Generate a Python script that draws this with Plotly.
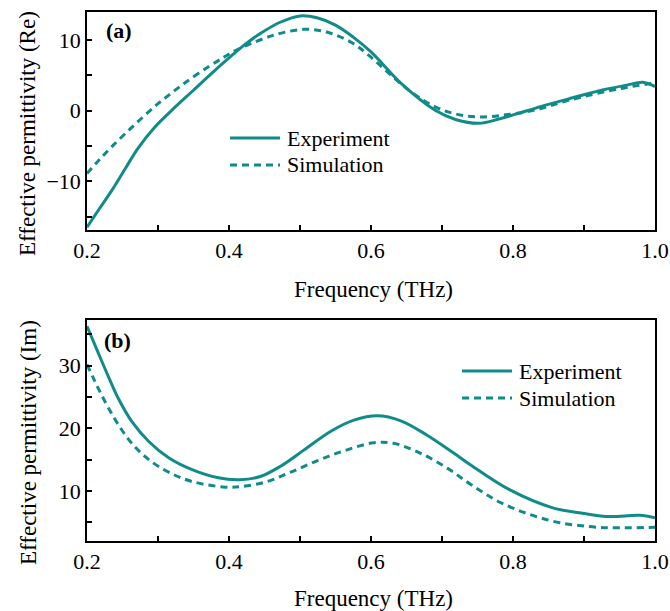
import plotly.graph_objects as go

# Real part of the effective permittivity
freq_re_exp = [0.200, 0.216, 0.235, 0.254, 0.272, 0.296, 0.320, 0.348, 0.376, 0.404,
               0.423, 0.444, 0.472, 0.500, 0.525, 0.550, 0.575, 0.600, 0.644, 0.691,
               0.720, 0.752, 0.780, 0.804, 0.840, 0.880, 0.926, 0.960, 0.983, 1.000]
re_exp = [-16.5, -14.1, -11.3, -8.2, -5.3, -2.3, 0.1, 2.7, 5.3, 7.8,
          9.4, 10.9, 12.5, 13.4, 13.1, 12.1, 10.4, 8.3, 3.7, 0.0,
          -1.3, -1.8, -1.2, -0.5, 0.6, 1.7, 2.9, 3.6, 4.0, 3.4]

freq_re_sim = [0.200, 0.216, 0.235, 0.265, 0.298, 0.318, 0.339, 0.371, 0.392, 0.409,
               0.449, 0.475, 0.505, 0.530, 0.550, 0.575, 0.597, 0.653, 0.691, 0.720,
               0.752, 0.790, 0.832, 0.880, 0.950, 1.000]
re_sim = [-8.9, -7.1, -5.1, -2.2, 0.8, 2.4, 4.0, 6.2, 7.5, 8.5,
          10.2, 11.0, 11.5, 11.3, 10.7, 9.5, 7.8, 2.9, 0.5, -0.5,
          -0.9, -0.6, 0.1, 1.5, 3.1, 3.9]

# Imaginary part of the effective permittivity
freq_im_exp = [0.200, 0.216, 0.230, 0.244, 0.263, 0.287, 0.315, 0.348, 0.385, 0.414,
               0.444, 0.472, 0.510, 0.543, 0.576, 0.609, 0.642, 0.679, 0.717, 0.741,
               0.795, 0.856, 0.900, 0.936, 0.978, 1.000]
im_exp = [36.3, 32.0, 28.3, 24.8, 21.1, 17.9, 15.3, 13.4, 12.1, 11.8,
          12.3, 13.9, 16.9, 19.5, 21.3, 22.0, 21.2, 18.9, 16.0, 14.1,
          10.2, 7.3, 6.4, 5.9, 6.1, 5.7]

freq_im_sim = [0.200, 0.209, 0.218, 0.230, 0.244, 0.263, 0.287, 0.315, 0.348, 0.395,
               0.418, 0.454, 0.487, 0.524, 0.562, 0.604, 0.632, 0.670, 0.708, 0.741,
               0.785, 0.851, 0.907, 0.950, 1.000]
im_sim = [30.2, 28.0, 25.9, 23.3, 20.6, 17.6, 15.0, 13.0, 11.5, 10.6,
          10.7, 11.5, 13.0, 14.8, 16.4, 17.7, 17.6, 16.0, 13.6, 11.0,
          8.0, 5.3, 4.3, 4.1, 4.2]

series_names = ["Experiment", "Simulation"]
x_ticks = [0.2, 0.4, 0.6, 0.8, 1.0]
x_ticktext = ["0.2", "0.4", "0.6", "0.8", "1.0"]

W, H = 670, 611
TEAL = "#0F8C8A"
FONT = "Liberation Serif, Times New Roman, serif"
DASH = "7px,5px"


def px_x(p):
    return p / W


def px_y(p):
    return 1 - p / H


fig = go.Figure()

line_kw = dict(color=TEAL, width=3, shape="spline", smoothing=1.0)
fig.add_trace(go.Scatter(x=freq_re_exp, y=re_exp, mode="lines", name=series_names[0],
                         line=dict(**line_kw), xaxis="x", yaxis="y"))
fig.add_trace(go.Scatter(x=freq_re_sim, y=re_sim, mode="lines", name=series_names[1],
                         line=dict(**line_kw, dash=DASH), xaxis="x", yaxis="y"))
fig.add_trace(go.Scatter(x=freq_im_exp, y=im_exp, mode="lines", name=series_names[0],
                         line=dict(**line_kw), xaxis="x2", yaxis="y2"))
fig.add_trace(go.Scatter(x=freq_im_sim, y=im_sim, mode="lines", name=series_names[1],
                         line=dict(**line_kw, dash=DASH), xaxis="x2", yaxis="y2"))

minor_kw = dict(ticks="inside", ticklen=5, tickwidth=1.5, tickcolor="black")
axis_common = dict(
    showline=True, linecolor="black", linewidth=1.5, mirror=True,
    ticks="inside", ticklen=5, tickwidth=1.5, tickcolor="black",
    showgrid=False, zeroline=False, automargin=False,
    tickfont=dict(family=FONT, size=22, color="black"),
)
x_dom = [px_x(87), px_x(655)]

xcommon = dict(axis_common, range=[0.2, 1.0], domain=x_dom,
               tickvals=x_ticks, ticktext=x_ticktext,
               minor=dict(minor_kw, tickvals=[0.3, 0.5, 0.7, 0.9]))

fig.update_layout(
    width=W, height=H,
    margin=dict(l=0, r=0, t=0, b=0),
    paper_bgcolor="white", plot_bgcolor="white",
    showlegend=False,
    xaxis=dict(xcommon, anchor="y"),
    yaxis=dict(axis_common, anchor="x", domain=[px_y(230), px_y(12)],
               range=[-16.9, 13.95], tickvals=[-10, 0, 10],
               minor=dict(minor_kw, tickvals=[-15, -5, 5])),
    xaxis2=dict(xcommon, anchor="y2"),
    yaxis2=dict(axis_common, anchor="x2", domain=[px_y(541), px_y(320)],
                range=[2.0, 37.3], tickvals=[10, 20, 30],
                minor=dict(minor_kw, tickvals=[5, 15, 25, 35])),
)

annotations = []
shapes = []


def text(x, y, s, size=23, angle=0, xanchor="center", bold=False):
    annotations.append(dict(
        x=px_x(x), y=px_y(y), xref="paper", yref="paper", text=f"<b>{s}</b>" if bold else s,
        showarrow=False, textangle=angle, xanchor=xanchor, yanchor="middle",
        font=dict(family=FONT, size=size, color="black")))


# Axis titles and panel labels
text(28, 134, "Effective permittivity (Re)", angle=-90)
text(28, 443, "Effective permittivity (Im)", angle=-90)
text(373, 289, "Frequency (THz)")
text(373, 598, "Frequency (THz)")
text(119, 30, "(a)", size=22, bold=True)
text(118, 340, "(b)", size=22, bold=True)

# Legend entries for each panel
for (x0, x1, tx, ys) in [(230, 280, 285, (138, 165)), (462, 512, 517, (371, 398))]:
    for name, yy, dash in zip(series_names, ys, ["solid", DASH]):
        shapes.append(dict(type="line", xref="paper", yref="paper",
                           x0=px_x(x0), x1=px_x(x1), y0=px_y(yy), y1=px_y(yy),
                           line=dict(color=TEAL, width=3, dash=dash)))
        text(tx, yy, name, size=22, xanchor="left")

fig.update_layout(annotations=annotations, shapes=shapes)

fig.write_html("out.html")
